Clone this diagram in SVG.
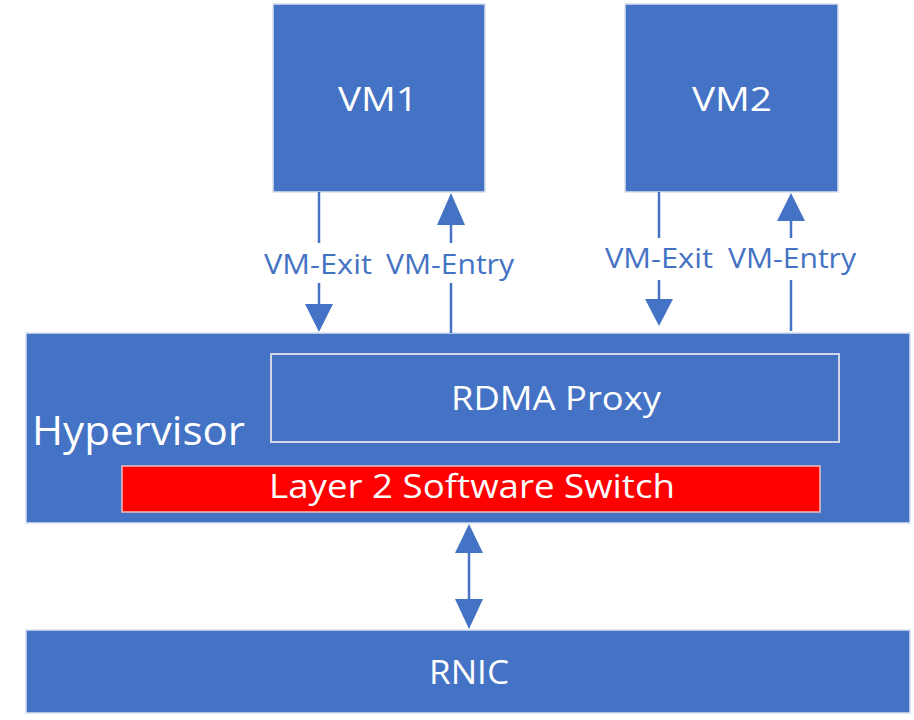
<svg xmlns="http://www.w3.org/2000/svg" width="914" height="720" viewBox="0 0 914 720">
<style>
.box{fill:#4472C4;stroke:#d9dfee;stroke-width:1.5}
.t{font-family:"Open Sans","Noto Sans","DejaVu Sans",sans-serif;fill:#ffffff;text-anchor:middle}
.lbl{font-family:"Open Sans","Noto Sans","DejaVu Sans",sans-serif;fill:#4472C4;font-size:28px;text-anchor:middle}
.ln{stroke:#4472C4;stroke-width:2.5;fill:none}
.ah{fill:#4472C4}
</style>
<rect width="914" height="720" fill="#ffffff"/>
<g id="vm1">
<rect class="box" x="273" y="4" width="212" height="188"/>
<text class="t" x="378" y="111" font-size="33" textLength="80" lengthAdjust="spacingAndGlyphs">VM1</text>
</g>
<g id="vm2">
<rect class="box" x="625" y="4" width="213" height="188"/>
<text class="t" x="732" y="111" font-size="33" textLength="80" lengthAdjust="spacingAndGlyphs">VM2</text>
</g>
<g id="hypervisor">
<rect class="box" x="26" y="333" width="884" height="190"/>
<text class="t" x="32" y="445" font-size="40" style="text-anchor:start" textLength="213" lengthAdjust="spacingAndGlyphs">Hypervisor</text>
</g>
<g id="rdma-proxy">
<rect x="271" y="354" width="568" height="88" fill="none" stroke="#d0d6e6" stroke-width="2"/>
<text class="t" x="556" y="410" font-size="32" textLength="210" lengthAdjust="spacingAndGlyphs">RDMA Proxy</text>
</g>
<g id="l2switch">
<rect x="122" y="466" width="698" height="46" fill="#ff0000" stroke="#f0c0c0" stroke-width="1.5"/>
<text class="t" x="472" y="498" font-size="32" textLength="406" lengthAdjust="spacingAndGlyphs">Layer 2 Software Switch</text>
</g>
<g id="rnic">
<rect class="box" x="26" y="630" width="884" height="83"/>
<text class="t" x="469" y="684" font-size="32" textLength="80" lengthAdjust="spacingAndGlyphs">RNIC</text>
</g>
<g id="connectors">
<line class="ln" x1="319" y1="192" x2="319" y2="243"/>
<line class="ln" x1="319" y1="283" x2="319" y2="305"/>
<polygon class="ah" points="305,304 333,304 319,332"/>
<line class="ln" x1="451" y1="222" x2="451" y2="243"/>
<line class="ln" x1="451" y1="283" x2="451" y2="333"/>
<polygon class="ah" points="437,225 465,225 451,193"/>
<text class="lbl" x="318" y="274" textLength="108" lengthAdjust="spacingAndGlyphs">VM-Exit</text>
<text class="lbl" x="450" y="274" textLength="128" lengthAdjust="spacingAndGlyphs">VM-Entry</text>
<line class="ln" x1="659" y1="192" x2="659" y2="238"/>
<line class="ln" x1="659" y1="280" x2="659" y2="300"/>
<polygon class="ah" points="645,299 673,299 659,326"/>
<line class="ln" x1="791" y1="218" x2="791" y2="238"/>
<line class="ln" x1="791" y1="280" x2="791" y2="331"/>
<polygon class="ah" points="777,221 805,221 791,193"/>
<text class="lbl" x="659" y="268" textLength="108" lengthAdjust="spacingAndGlyphs">VM-Exit</text>
<text class="lbl" x="792" y="268" textLength="128" lengthAdjust="spacingAndGlyphs">VM-Entry</text>
<line class="ln" x1="469" y1="550" x2="469" y2="602"/>
<polygon class="ah" points="455,553 483,553 469,524"/>
<polygon class="ah" points="455,599 483,599 469,629"/>
</g>
</svg>
